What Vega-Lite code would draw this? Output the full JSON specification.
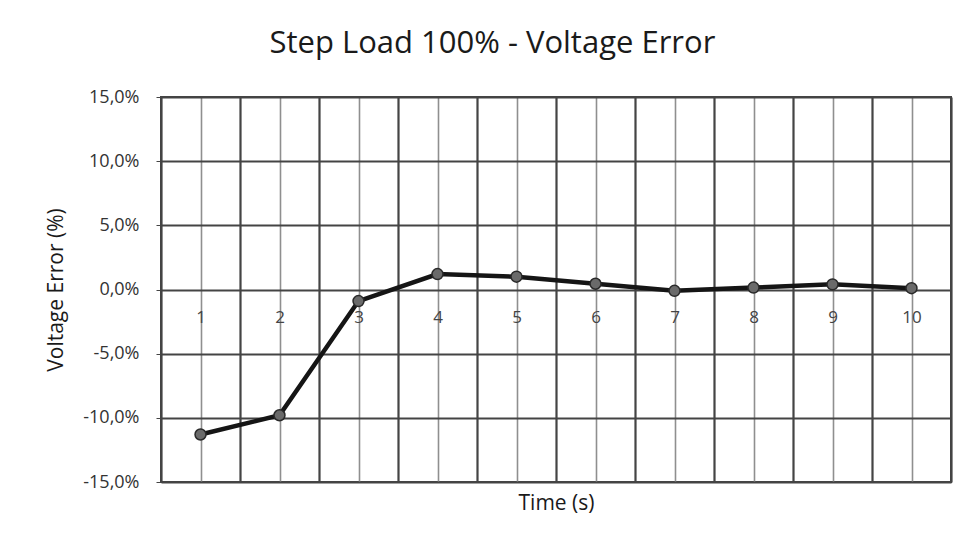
{
  "$schema": "https://vega.github.io/schema/vega-lite/v6.json",
  "autosize": {"type": "none"},
  "width": 790,
  "height": 385,
  "padding": {"left": 161, "top": 97, "right": 17, "bottom": 64},
  "background": "white",
  "title": {"text": "Step Load 100% - Voltage Error", "fontSize": 31, "font": "Open Sans", "fontWeight": "normal", "color": "#1a1a1a", "anchor": "middle", "frame": "bounds", "offset": 28, "dx": -6},
  "config": {
    "view": {"stroke": "#444", "strokeWidth": 2},
    "font": "Open Sans"
  },
  "data": {"values": [
    {"t": 1, "v": -0.113},
    {"t": 2, "v": -0.098},
    {"t": 3, "v": -0.009},
    {"t": 4, "v": 0.012},
    {"t": 5, "v": 0.010},
    {"t": 6, "v": 0.0045},
    {"t": 7, "v": -0.001},
    {"t": 8, "v": 0.0015},
    {"t": 9, "v": 0.004},
    {"t": 10, "v": 0.001}
  ]},
  "resolve": {"axis": {"x": "independent"}},
  "layer": [
    {
      "mark": {"type": "point", "opacity": 0},
      "encoding": {
        "x": {"field": "t", "type": "quantitative",
          "scale": {"domain": [0.5, 10.5], "nice": false, "zero": false},
          "axis": {"orient": "bottom", "values": [0.5, 1.5, 2.5, 3.5, 4.5, 5.5, 6.5, 7.5, 8.5, 9.5, 10.5], "labels": false, "ticks": false, "domain": false, "title": "Time (s)", "titleFontSize": 21, "titleFontWeight": "normal", "titleColor": "#1a1a1a", "titlePadding": 10, "grid": true, "gridColor": "#444", "gridWidth": 2.2, "gridOpacity": 1}},
        "y": {"field": "v", "type": "quantitative"}
      }
    },
    {
      "mark": {"type": "line", "color": "#151515", "strokeWidth": 4.5},
      "encoding": {
        "x": {"field": "t", "type": "quantitative",
          "axis": {"orient": "bottom", "values": [1, 2, 3, 4, 5, 6, 7, 8, 9, 10], "format": "d", "labelFontSize": 17, "labelColor": "#444", "ticks": false, "domain": false, "offset": -192.5, "labelPadding": 20, "grid": true, "gridColor": "#8f8f8f", "gridWidth": 1.6, "gridOpacity": 1, "title": null}},
        "y": {"field": "v", "type": "quantitative",
          "scale": {"domain": [-0.15, 0.15], "nice": false},
          "axis": {"values": [-0.15, -0.1, -0.05, 0, 0.05, 0.1, 0.15], "labelExpr": "replace(replace(format(datum.value, '.1%'), '.', ','), '\u2212', '-')", "labelFontSize": 18, "labelColor": "#333", "tickSize": 5, "tickColor": "#444", "labelPadding": 17, "domain": false, "grid": true, "gridColor": "#444", "gridWidth": 2.2, "gridOpacity": 1,
            "title": "Voltage Error (%)", "titleFontSize": 21, "titleFontWeight": "normal", "titleColor": "#1a1a1a", "titlePadding": 16}}
      }
    },
    {
      "mark": {"type": "point", "filled": true, "size": 120, "color": "#6a6a6a", "stroke": "#2a2a2a", "strokeWidth": 1.5, "opacity": 1},
      "encoding": {
        "x": {"field": "t", "type": "quantitative", "axis": null},
        "y": {"field": "v", "type": "quantitative"}
      }
    }
  ]
}
